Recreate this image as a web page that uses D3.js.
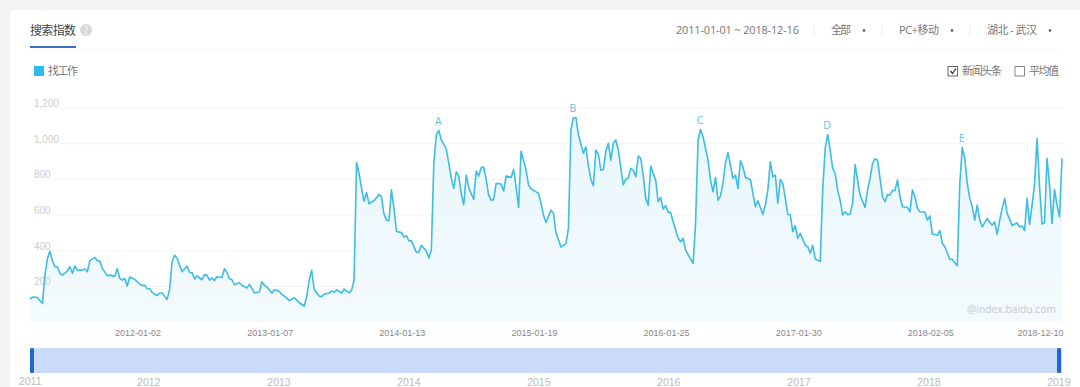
<!DOCTYPE html>
<html>
<head>
<meta charset="utf-8">
<script src="https://cdnjs.cloudflare.com/ajax/libs/d3/7.8.5/d3.min.js"></script>
<style>
html, body { margin: 0; padding: 0; background: #f4f4f4; }
svg { display: block; font-family: "Open Sans", "Noto Sans CJK SC", sans-serif; }
.axis path, .axis line { display: none; }
.head { font-size: 11px; fill: #777; }
</style>
</head>
<body>
<svg width="1080" height="387"></svg>
<script>
// week number counted from 2011-01-03, and the index read at that week
var weeks = [0,1,3,4,5,6,7,8,9,10,11,12,13,15,16,17,18,19,21,22,23,24,26,27,28,29,31,32,34,35,36,37,38,39,40,42,44,45,46,47,48,49,51,52,53,55,56,57,58,59,60,61,63,64,65,66,67,69,70,71,72,73,74,75,77,78,79,80,81,82,84,85,87,88,89,90,92,93,94,95,97,98,100,101,102,104,106,107,108,110,111,112,113,114,115,116,117,118,120,121,122,123,125,126,128,129,130,131,
    132,133,134,135,136,138,140,141,142,143,144,145,146,147,149,150,151,152,153,155,156,157,159,160,161,162,163,164,165,167,168,169,170,171,172,173,174,175,176,178,179,180,181,182,183,184,185,186,187,189,190,191,193,194,195,196,197,199,200,201,204,205,206,207,209,210,211,213,215,216,217,218,219,220,222,223,224,225,226,227,228,229,230,231,232,233,234,235,236,238,239,240,241,242,243,244,245,246,247,248,249,250,251,252,253,254,255,256,257,258,260,261,262,263,266,267,268,269,270,272,273,
    274,275,276,277,278,279,280,281,282,283,284,285,286,287,289,290,291,292,294,295,296,297,298,299,300,301,302,303,304,305,306,307,308,309,311,312,313,314,315,317,318,319,320,321,322,323,324,325,326,327,328,329,330,331,332,333,335,336,337,338,339,340,341,342,343,344,345,346,347,348,349,350,352,353,354,355,356,357,359,360,361,362,364,365,366,367,369,370,372,373,374,375,376,377,378,379,380,381,382,383,384,385,386,387,388,389,390,391,392,394,396,397,398,399,400,401,402,403,404,405,406,407,408,409,410,411,412,413,414];
var values = [127,138,136,118,103,261,355,394,342,308,308,271,261,284,308,271,312,288,289,295,280,342,360,342,340,299,258,261,254,297,243,233,243,200,250,237,211,202,205,185,185,164,146,161,161,125,181,336,372,355,317,280,312,276,274,239,256,235,265,261,233,245,230,252,248,297,276,241,235,207,218,204,189,209,187,162,166,224,204,196,161,179,170,153,144,118,134,121,106,88,140,233,288,181,162,144,140,155,159,172,164,179,161,183,161,177,233,892,
    831,747,676,724,661,678,713,700,603,569,566,739,635,506,500,474,482,452,454,390,390,428,396,357,401,887,1046,1072,1018,967,887,803,747,840,816,719,655,821,751,685,844,816,864,866,797,709,680,685,775,771,732,816,808,853,756,640,956,849,765,745,719,663,597,556,625,607,498,418,437,523,1074,1143,1143,1046,943,980,872,797,762,961,937,849,853,956,999,905,999,1018,961,767,797,805,859,849,812,928,915,821,691,652,872,831,793,672,696,631,650,614,611,560,467,448,467,401,327,551,1018,1077,1036,905,793,
    728,808,681,704,775,891,947,877,803,821,747,902,868,807,797,719,644,678,601,653,737,896,812,821,663,797,775,691,601,599,504,538,467,495,429,420,383,428,351,338,737,971,1049,961,859,831,737,681,597,616,599,603,663,881,793,709,640,737,803,887,913,905,803,700,672,713,709,736,734,793,700,644,640,616,737,700,635,616,614,569,592,491,484,510,439,420,349,349,314,775,975,915,775,691,644,569,653,569,532,554,579,556,541,560,489,569,635,691,607,538,554,532,536,510,691,545,653,775,1027,756,547,554,915,765,551,741,653,588,915];

var yTicks = [0,200,400,600,800,1000,1200];
var xTickDates = ['2012-01-02','2013-01-07','2014-01-13','2015-01-19','2016-01-25','2017-01-30','2018-02-05','2018-12-10'];
var years = [2011,2012,2013,2014,2015,2016,2017,2018,2019];
// newsy peaks: letter and the week it sits on
var markLetters = ['A','B','C','D','E'];
var markWeeks = [164,218,269,320,374];
var markValues = [1072,1143,1077,1049,975];

var svg = d3.select('svg');
var parseDay = d3.timeParse('%Y-%m-%d');
var start = parseDay('2011-01-03');
var end = parseDay('2018-12-10');

var xScale = d3.scaleTime().domain([start, end]).range([30, 1062]);
var yScale = d3.scaleLinear().domain([0, 1200]).range([321.7, 107.5]);
var yearScale = d3.scaleTime().domain([new Date(2011,0,1), new Date(2019,0,1)]).range([30, 1070]);

function weekX(w) { return xScale(d3.timeWeek.offset(start, w)); }

// card
svg.append('rect').attr('x', 10).attr('y', 10).attr('width', 1080).attr('height', 390).attr('rx', 4).attr('fill', '#fff');

// header
svg.append('text').text('搜索指数').attr('x', 30).attr('y', 35).attr('font-size', 12).attr('fill', '#444').attr('font-family', '"Noto Sans CJK SC"').attr('textLength', 46);
svg.append('rect').attr('x', 30).attr('y', 46).attr('width', 46).attr('height', 2).attr('fill', '#3f6fc4');
svg.append('line').attr('x1', 30).attr('x2', 1062).attr('y1', 49.5).attr('y2', 49.5).attr('stroke', '#f8f8f8');
svg.append('circle').attr('cx', 86).attr('cy', 30).attr('r', 6).attr('fill', '#d8d8d8');
svg.append('text').text('?').attr('x', 86).attr('y', 33.5).attr('text-anchor', 'middle').attr('font-size', 10).attr('fill', '#fff');

var headTexts = [['2011-01-01 ~ 2018-12-16', 676, 123], ['全部', 831, 20], ['PC+移动', 899, 40], ['湖北 - 武汉', 987, 50]];
headTexts.forEach(function(t) {
    svg.append('text').attr('class', 'head').text(t[0]).attr('x', t[1]).attr('y', 34).attr('textLength', t[2]);
});
[864, 952, 1050].forEach(function(x) {
    svg.append('circle').attr('cx', x).attr('cy', 30.5).attr('r', 1.3).attr('fill', '#555');
});
[814, 882, 970].forEach(function(x) {
    svg.append('line').attr('x1', x).attr('x2', x).attr('y1', 25).attr('y2', 36).attr('stroke', '#eee');
});

// legend and checkboxes
svg.append('rect').attr('x', 34).attr('y', 66).attr('width', 10).attr('height', 10).attr('fill', '#2fbdf0');
svg.append('text').attr('class', 'head').text('找工作').attr('x', 48).attr('y', 75).attr('font-size', 10).attr('textLength', 30);
svg.append('rect').attr('x', 948).attr('y', 66.5).attr('width', 9.5).attr('height', 9.5).attr('fill', '#fff').attr('stroke', '#666');
svg.append('path').attr('d', 'M950.5 71 L952.5 73.5 L956 68.5').attr('fill', 'none').attr('stroke', '#333').attr('stroke-width', 1.3);
svg.append('text').attr('class', 'head').text('新闻头条').attr('x', 962).attr('y', 75).attr('textLength', 40);
svg.append('rect').attr('x', 1015).attr('y', 66.5).attr('width', 9.5).attr('height', 9.5).attr('fill', '#fff').attr('stroke', '#888');
svg.append('text').attr('class', 'head').text('平均值').attr('x', 1029).attr('y', 75).attr('textLength', 30);

// gradient under the line
var grad = svg.append('defs').append('linearGradient').attr('id', 'areaFill')
    .attr('x1', 0).attr('x2', 0).attr('y1', 0).attr('y2', 1);
grad.append('stop').attr('offset', '0%').attr('stop-color', '#e8f7fc');
grad.append('stop').attr('offset', '100%').attr('stop-color', '#f3fafe');

var area = d3.area()
    .x(function(d) { return weekX(d); })
    .y0(yScale(0))
    .y1(function(d, i) { return yScale(values[i]); });
var line = d3.line()
    .x(function(d) { return weekX(d); })
    .y(function(d, i) { return yScale(values[i]); });

svg.append('path').datum(weeks).attr('d', area).attr('fill', 'url(#areaFill)');

// y axis with its grid, labels sit just above their line
var yAxis = d3.axisLeft(yScale).tickValues(yTicks.slice(1)).tickFormat(d3.format(','));
var yG = svg.append('g').attr('class', 'y axis').call(yAxis);
yG.selectAll('text').attr('x', 34).attr('dy', '-0.12em').attr('text-anchor', 'start').attr('font-size', 10).attr('fill', '#ccc');
yG.selectAll('.tick').each(function() {
    var w = d3.select(this).select('text').node().getComputedTextLength();
    d3.select(this).insert('line', 'text').style('display', 'block')
        .attr('x1', 36 + w).attr('x2', 1062).attr('stroke', '#f4f4f4');
});

svg.append('path').datum(weeks).attr('d', line).attr('fill', 'none').attr('stroke', '#3bbde6').attr('stroke-width', 1.6).attr('stroke-linejoin', 'round');

// peak letters
markLetters.forEach(function(letter, i) {
    svg.append('text').text(letter)
        .attr('x', weekX(markWeeks[i]) - 0.5)
        .attr('y', yScale(markValues[i]) - 5.5)
        .attr('text-anchor', 'middle').attr('font-size', 10.5).attr('fill', '#5cc6de');
});

svg.append('text').text('@index.baidu.com').attr('x', 1056).attr('y', 313).attr('text-anchor', 'end')
    .attr('font-size', 10.3).attr('fill', '#c4c9cc');

// x axis, labels end at their date
var xAxis = d3.axisBottom(xScale).tickValues(xTickDates.map(parseDay)).tickFormat(d3.timeFormat('%Y-%m-%d'));
var xG = svg.append('g').attr('class', 'x axis').attr('transform', 'translate(1,327.5)').call(xAxis);
xG.selectAll('text').attr('y', 0).attr('dy', '0.9em').attr('text-anchor', 'end').attr('font-size', 9).attr('fill', '#888');

// range slider
svg.append('rect').attr('x', 30).attr('y', 348).attr('width', 1032).attr('height', 25).attr('fill', '#c9dbf8');
[30, 1057].forEach(function(x) {
    svg.append('rect').attr('x', x).attr('y', 348).attr('width', 4).attr('height', 25).attr('rx', 1.5).attr('fill', '#2166d8');
});
// year labels end at their year too, only the first one is pushed inside
var yearAxis = d3.axisBottom(yearScale).tickValues(years.map(function(y) { return new Date(y, 0, 1); })).tickFormat(d3.timeFormat('%Y'));
var yearG = svg.append('g').attr('class', 'axis').attr('transform', 'translate(0,376)').call(yearAxis);
yearG.selectAll('text').attr('y', 0).attr('font-size', 10.5).attr('fill', '#bbb')
    .attr('text-anchor', 'end')
    .attr('x', function(d, i) { return i == 0 ? 11 : 0; })
    .attr('dy', function(d, i) { return i == 0 ? '0.85em' : '0.95em'; });
</script>
</body>
</html>
